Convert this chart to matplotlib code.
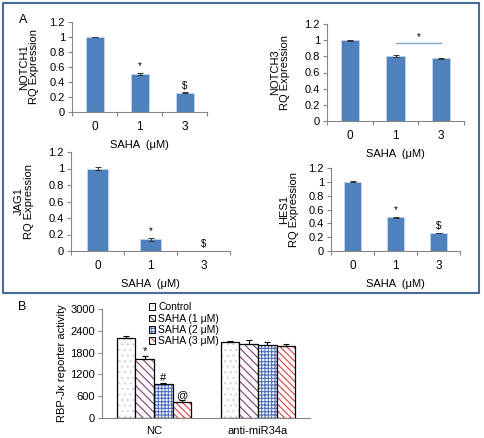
import matplotlib.pyplot as plt
from matplotlib.patches import Rectangle

plt.rcParams['font.family'] = ['Liberation Sans', 'DejaVu Sans']
plt.rcParams['hatch.linewidth'] = 0.8

# Panel A data
doses = ['0', '1', '3']
notch1 = [1.0, 0.51, 0.26]
notch1_err = [0.005, 0.01, 0.005]
notch3 = [1.0, 0.80, 0.775]
notch3_err = [0.005, 0.012, 0.005]
jag1 = [1.0, 0.14, 0.002]
jag1_err = [0.02, 0.02, 0.0]
hes1 = [1.0, 0.49, 0.26]
hes1_err = [0.005, 0.008, 0.005]
notch1_marks = ['', '*', '$']
jag1_marks = ['', '*', '$']
hes1_marks = ['', '*', '$']

# Panel B data
groups = ['NC', 'anti-miR34a']
series = ['Control', 'SAHA (1 μM)', 'SAHA (2 μM)', 'SAHA (3 μM)']
rbp = [[2190, 2080], [1615, 2050], [930, 2000], [432, 1970]]
rbp_err = [[60, 50], [80, 110], [25, 100], [60, 80]]
rbp_marks = ['', '*', '#', '@']

bar_col = '#4F81BD'
axcol = '#868686'
W, H = 484, 438

fig = plt.figure(figsize=(4.84, 4.38), dpi=100)


def px_rect(x0, y0, x1, y1):
    # pixel box (top-left origin) -> figure fraction rect
    return [x0 / W, (H - y1) / H, (x1 - x0) / W, (y1 - y0) / H]


def excel_axes(ax, n):
    for s in ['top', 'right']:
        ax.spines[s].set_visible(False)
    for s in ['left', 'bottom']:
        ax.spines[s].set_color(axcol)
        ax.spines[s].set_linewidth(0.8)
    ax.set_xlim(0, n)
    ax.set_xticks(range(n + 1))
    ax.set_xticklabels([])
    ax.tick_params(axis='x', length=3, color=axcol)
    ax.tick_params(axis='y', length=3, color=axcol, labelsize=8, pad=2)


def panel_a(box, vals, errs, name, marks, label_x):
    ax = fig.add_axes(px_rect(*box))
    xs = [i + 0.5 for i in range(len(vals))]
    ax.bar(xs, vals, width=0.4, color=bar_col, edgecolor='#C6D6EA', linewidth=0.6,
           yerr=errs, error_kw=dict(ecolor='#333333', elinewidth=0.7, capsize=2, capthick=0.7))
    excel_axes(ax, len(vals))
    ax.set_ylim(0, 1.2)
    ax.set_yticks([0, 0.2, 0.4, 0.6, 0.8, 1, 1.2])
    ax.set_yticklabels(['0', '0.2', '0.4', '0.6', '0.8', '1', '1.2'])
    for x, d in zip(xs, doses):
        ax.annotate(d, xy=(x, 0), xycoords=('data', 'axes fraction'),
                    xytext=(0, -11), textcoords='offset points',
                    ha='center', va='center', fontsize=8.5)
    ax.annotate('SAHA  (μM)', xy=(0.5, 0), xycoords='axes fraction',
                xytext=(0, -23.5), textcoords='offset points',
                ha='center', va='center', fontsize=8)
    yc = 1 - (box[1] + box[3]) / 2 / H
    fig.text(label_x / W, yc, name + '\nRQ Expression', rotation=90, ha='center',
             va='center', fontsize=8, linespacing=0.95, multialignment='center')
    if marks:
        for x, v, e, m in zip(xs, vals, errs, marks):
            if m:
                ax.text(x, v + e + 0.02, m, ha='center', va='bottom', fontsize=7)
    return ax


panel_a((72, 22, 207, 112), notch1, notch1_err, 'NOTCH1', notch1_marks, 29)
ax3 = panel_a((327, 24, 464, 121), notch3, notch3_err, 'NOTCH3', None, 280)
ax3.plot([1.5, 2.5], [0.965, 0.965], color='#7FA3CF', lw=1)
ax3.text(2.0, 0.98, '*', ha='center', va='bottom', fontsize=7)
panel_a((71, 152, 230, 251), jag1, jag1_err, 'JAG1', jag1_marks, 24)
panel_a((331, 168, 460, 251), hes1, hes1_err, 'HES1', hes1_marks, 289)

fig.text(23 / W, 1 - 20 / H, 'A', fontsize=9, ha='center', va='center')
fig.patches.append(Rectangle((3 / W, 1 - 293 / H), 476 / W, 290 / H,
                             transform=fig.transFigure, fill=False,
                             edgecolor='#4A6C9B', linewidth=1.5))

# Panel B
axb = fig.add_axes(px_rect(102, 309, 310, 418))
colors = ['#D4D4D4', '#7B3F6E', '#4F6FC0', '#E04040']
hatches = ['...', '\\\\\\\\', '+++++', '\\\\\\\\\\']
w = 0.18
for k, (name, vals, errs) in enumerate(zip(series, rbp, rbp_err)):
    xs = [g + 0.5 + (k - 1.5) * w for g in range(len(groups))]
    axb.bar(xs, vals, width=w, facecolor='white', edgecolor=colors[k],
            hatch=hatches[k], linewidth=0)
    axb.bar(xs, vals, width=w, fill=False, edgecolor='black', linewidth=0.9)
    axb.errorbar(xs, vals, yerr=[[0] * len(errs), errs], fmt='none', ecolor='black',
                 elinewidth=0.8, capsize=2.5, capthick=0.8)
    if rbp_marks[k]:
        axb.text(xs[0], vals[0] + errs[0] + 10, rbp_marks[k], ha='center', va='bottom',
                 fontsize=8)
excel_axes(axb, 2)
axb.tick_params(axis='x', length=0)
axb.set_ylim(0, 3000)
axb.set_yticks([0, 600, 1200, 1800, 2400, 3000])
for g, name in enumerate(groups):
    axb.annotate(name, xy=(g + 0.5, 0), xycoords=('data', 'axes fraction'),
                 xytext=(0, -9.5), textcoords='offset points',
                 ha='center', va='center', fontsize=8)
fig.text(62 / W, 1 - 363 / H, 'RBP-Jκ reporter activity', rotation=90,
         ha='center', va='center', fontsize=8)
handles = []
for k in range(len(series)):
    handles.append((Rectangle((0, 0), 1, 1, facecolor='white', edgecolor=colors[k],
                              hatch=hatches[k], linewidth=0),
                    Rectangle((0, 0), 1, 1, fill=False, edgecolor='black', linewidth=0.7)))
axb.legend(handles, series, loc='upper left', bbox_to_anchor=((149 - 102) / 208, 1.06),
           frameon=False, fontsize=7.5, handlelength=0.6, handleheight=0.6,
           handletextpad=0.3, labelspacing=0.12, borderaxespad=0, borderpad=0)
fig.text(22 / W, 1 - 307 / H, 'B', fontsize=9, ha='center', va='center')

fig.savefig('out.png', dpi=100)
